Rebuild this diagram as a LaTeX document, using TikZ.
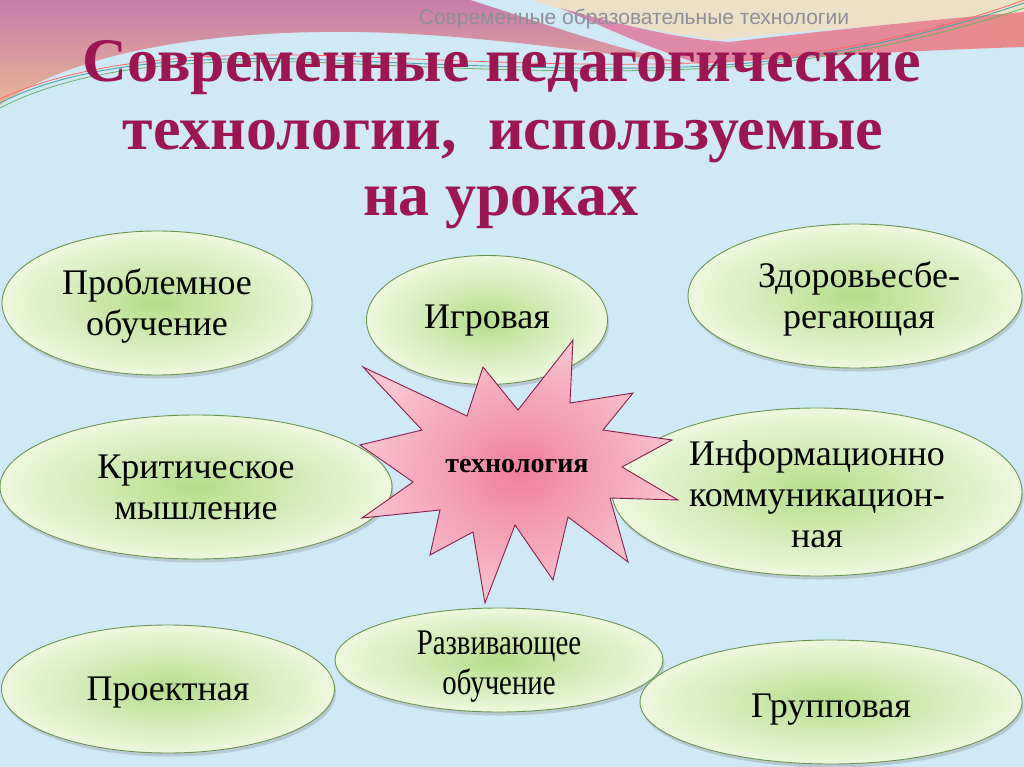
\documentclass[tikz,border=0pt]{standalone}
\usepackage{fontspec}
\setmainfont{Liberation Serif}
\newfontfamily\headfont{Liberation Sans}
\newfontfamily\narrowserif[FakeStretch=0.8]{Liberation Serif}
\usetikzlibrary{shapes.geometric,shadows}

\definecolor{bgblue}{HTML}{CFE9F6}
\definecolor{wavetop}{HTML}{C67DAC}
\definecolor{wavelow}{HTML}{E9B592}
\definecolor{beige}{HTML}{ECE0C6}
\definecolor{bandpink}{HTML}{DC88B2}
\definecolor{bandred}{HTML}{E98B8C}
\definecolor{titlered}{HTML}{9E1553}
\definecolor{headgray}{HTML}{8E8E96}
\definecolor{ovalline}{HTML}{6A9650}
\definecolor{ovalin}{HTML}{B4DE8A}
\definecolor{ovalout}{HTML}{EEF8DE}
\definecolor{starline}{HTML}{8A1E4C}
\definecolor{starin}{HTML}{F0809D}
\definecolor{starout}{HTML}{F9C3CF}

\begin{document}
\begin{tikzpicture}[x=1pt,y=-1pt,
  oval node/.style={ellipse,draw=ovalline,line width=0.9pt,inner color=ovalin,outer color=ovalout,
    inner sep=0pt,drop shadow={shadow xshift=1.5pt,shadow yshift=-3.5pt,opacity=.3,fill=gray}},
  oval text/.style={align=center,font=\fontsize{36}{41}\selectfont,text=black},
  title line/.style={anchor=base,text=titlered,font=\fontsize{62}{67}\selectfont\bfseries}]

  \useasboundingbox (0,0) rectangle (1024,767);
  \fill[bgblue] (0,0) rectangle (1024,767);

  % top waves
  \shade[top color=wavetop,bottom color=wavelow] (0,0) -- (470,0)
    .. controls (540,22) and (610,48) .. (690,64)
    .. controls (560,48) and (440,30) .. (320,32)
    .. controls (190,34) and (70,55) .. (0,105) -- cycle;
  \fill[beige] (530,0) -- (1024,0) -- (1024,14)
    .. controls (900,25) and (800,30) .. (720,40)
    .. controls (640,30) and (580,15) .. (530,0) -- cycle;
  \shade[left color=bandpink,right color=bandred] (560,8)
    .. controls (640,30) and (690,40) .. (730,42)
    .. controls (830,30) and (950,18) .. (1024,12) -- (1024,47)
    .. controls (930,50) and (830,55) .. (700,64)
    .. controls (640,45) and (600,25) .. (560,8) -- cycle;
  \draw[teal!70,line width=0.9pt] (0,103) .. controls (80,62) and (200,55) .. (330,60)
    .. controls (480,66) and (640,74) .. (760,62) .. controls (870,50) and (960,25) .. (1024,3);
  \draw[green!50!black!60,line width=0.8pt] (0,108) .. controls (85,64) and (205,58) .. (335,63)
    .. controls (485,70) and (645,76) .. (765,64) .. controls (875,52) and (965,28) .. (1024,8);
  \draw[red!60,line width=0.8pt] (0,99) .. controls (90,58) and (210,52) .. (340,56)
    .. controls (490,62) and (650,70) .. (770,58) .. controls (880,46) and (970,20) .. (1024,0);

  \node[anchor=base,text=headgray,font=\headfont\fontsize{21}{24}\selectfont] (head) at (634,25)
    {Современные образовательные технологии};

  \node[title line] (title1) at (502,82) {Современные педагогические};
  \node[title line] (title2) at (503,150) {технологии,\ \ используемые};
  \node[title line] (title3) at (501,215) {на уроках};

  % ovals
  \node[oval node,minimum width=310pt,minimum height=144pt] (problem) at (157,303) {};
  \node[oval node,minimum width=241pt,minimum height=129pt] (game) at (487,320) {};
  \node[oval node,minimum width=334pt,minimum height=144pt] (health) at (855,296) {};
  \node[oval node,minimum width=392pt,minimum height=144pt] (critical) at (196,487) {};
  \node[oval node,minimum width=410pt,minimum height=168pt] (ict) at (817,492) {};
  \node[oval node,minimum width=333pt,minimum height=128pt] (project) at (168,689) {};
  \node[oval node,minimum width=328pt,minimum height=104pt] (develop) at (499,660) {};
  \node[oval node,minimum width=382pt,minimum height=124pt] (group) at (831,702) {};

  \node[oval text] (problem text) at ([yshift=-3pt]problem.center) {Проблемное\\обучение};
  \node[oval text] (game text) at ([yshift=-1pt]game.center) {Игровая};
  \node[oval text] (health text) at ([xshift=4pt,yshift=-3pt]health.center) {Здоровьесбе-\\регающая};
  \node[oval text] (critical text) at (critical) {Критическое\\мышление};
  \node[oval text] (ict text) at ([yshift=-2pt]ict.center) {Информационно\\коммуникацион-\\ная};
  \node[oval text] (project text) at ([yshift=-4pt]project.center) {Проектная};
  \node[oval text,font=\narrowserif\fontsize{36}{40}\selectfont] (develop text) at ([yshift=-7pt]develop.center)
    {Развивающее\\обучение};
  \node[oval text] (group text) at ([yshift=-8pt]group.center) {Групповая};

  % star
  \shadedraw[inner color=starin,outer color=starout,draw=starline,line width=0.9pt]
    (363,367) -- (467,416) -- (483,367) -- (518,410) -- (573,340) -- (570,403)
    -- (633,393) -- (603,430) -- (672,440) -- (622,467) -- (678,500) -- (610,498)
    -- (628,562) -- (568,517) -- (553,580) -- (515,525) -- (485,603) -- (473,532)
    -- (430,555) -- (440,510) -- (362,518) -- (413,482) -- (360,445) -- (422,430) -- cycle;
  \node[font=\fontsize{28}{32}\selectfont\bfseries] (tech) at (517,466) {технология};
\end{tikzpicture}
\end{document}
